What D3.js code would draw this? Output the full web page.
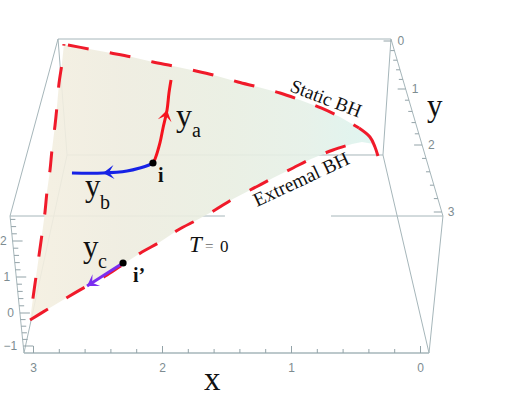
<!DOCTYPE html>
<html>
<head>
<meta charset="utf-8">
<script src="https://cdn.jsdelivr.net/npm/d3@7"></script>
<style>
    html, body { margin: 0; padding: 0; background: #fff; }
    svg { display: block; }
    text { font-family: "Liberation Serif", serif; fill: #111; }
    .tick-label { font-family: "Liberation Sans", sans-serif; font-size: 12px; fill: #7d8c91; }
</style>
</head>
<body>
<div class="chart"></div>
<script>
// curves are [x, v]: x, v off the left axis, as they fall on the page
const staticEdge = [[2.729, 7.549], [2.566, 7.437], [2.395, 7.324], [2.233, 7.211], [2.070, 7.070], [1.915, 6.958], [1.736, 6.817], [1.574, 6.676], [1.411, 6.507], [1.256, 6.366], [1.085, 6.197], [0.930, 6.000], [0.767, 5.775], [0.620, 5.521], [0.473, 5.211]];
const tipArc = [[0.473, 5.211], [0.388, 4.958], [0.349, 4.676], [0.326, 4.423]];
const tipFill = [[0.349, 4.676], [0.357, 4.761], [0.450, 4.817]];
const extremalEdge = [[3.023, -0.197], [2.884, 0.113], [2.729, 0.451], [2.581, 0.761], [2.426, 1.070], [2.287, 1.408], [2.155, 1.718], [2.016, 2.000], [1.876, 2.338], [1.729, 2.620], [1.589, 2.901], [1.450, 3.211], [1.256, 3.577], [1.140, 3.803], [0.984, 4.085], [0.845, 4.338], [0.674, 4.592], [0.527, 4.761]];
const leftEdge = [[3.023, -0.197], [3.000, 0.423], [2.977, 1.014], [2.953, 1.634], [2.930, 2.225], [2.907, 2.845], [2.891, 3.437], [2.868, 4.028], [2.853, 4.592], [2.829, 5.296], [2.814, 5.831], [2.798, 6.479], [2.775, 7.042], [2.760, 7.577]];
const curveA = [[2.070, 4.225], [2.054, 4.338], [2.016, 4.789], [1.992, 5.211], [1.961, 5.718], [1.946, 6.197], [1.930, 6.563]];
const curveB = [[2.070, 4.225], [2.101, 4.169], [2.171, 4.085], [2.271, 4.000], [2.457, 3.944], [2.698, 3.944]];
const curveC = [[2.302, 1.408], [2.581, 0.761]];
const startPoints = [[2.070, 4.225], [2.302, 1.408]];

// box corners in the same units
const backTop = [[2.806, 7.718], [0.225, 7.718]];
const frontTopLeft = [[3.178, 2.732], [1.512, 2.732]];
const frontTopRight = [[0.690, 2.732], [-0.178, 2.732]];
const backBottom = [[2.736, 4.451], [0.287, 4.451]];
const frontBottom = [[3.070, -1.127], [-0.070, -1.127]];
const sideEdges = [
    [[2.806, 7.718], [3.178, 2.732]],
    [[0.225, 7.718], [-0.178, 2.732]],
    [[2.736, 4.451], [3.070, -1.127]],
    [[0.287, 4.451], [-0.070, -1.127]],
    [[3.178, 2.732], [3.070, -1.127]],
    [[-0.178, 2.732], [-0.070, -1.127]],
    [[0.225, 7.718], [0.287, 4.451]],
    [[2.806, 7.718], [2.736, 4.451]]
];

const xTicks = d3.range(0, 16).map((d) => d / 5);
const zTicks = d3.range(-5, 14).map((d) => d / 5);
const yTicks = d3.range(0, 16).map((d) => d / 5);
const zTickValues = [-1, 0, 1, 2];
const zTickPixels = [346, 313, 277, 241];
const yTickValues = [0, 1, 2, 3];
const yTickPixels = [41, 89, 145, 212];

const width = 518;
const height = 400;

const sx = d3.scaleLinear().domain([0, 3]).range([420, 33]);
const sv = d3.scaleLinear().domain([0, 2]).range([313, 242]);
const zTickY = d3.scaleLinear().domain(zTickValues).range(zTickPixels);
const yTickY = d3.scaleLinear().domain(yTickValues).range(yTickPixels);
// the left and right axes lean, so tick x follows the box edge
const leftEdgeX = d3.scaleLinear().domain([sv(2.732), sv(-1.127)]).range([sx(3.178), sx(3.070)]);
const rightEdgeX = d3.scaleLinear().domain([sv(7.718), sv(2.732)]).range([sx(0.225), sx(-0.178)]);

const line = d3.line().x((d) => sx(d[0])).y((d) => sv(d[1]));
const smooth = d3.line().x((d) => sx(d[0])).y((d) => sv(d[1])).curve(d3.curveCatmullRom);

const svg = d3.select(".chart").append("svg")
    .attr("width", width)
    .attr("height", height);

const gradient = svg.append("defs").append("linearGradient")
    .attr("id", "surface")
    .attr("gradientUnits", "userSpaceOnUse")
    .attr("x1", sx(3)).attr("x2", sx(0.35))
    .attr("y1", 0).attr("y2", 0);
gradient.selectAll("stop")
    .data([[0, "#f4efe0"], [0.25, "#eeecdf"], [0.55, "#e9eee1"], [0.8, "#e5f0e7"], [1, "#dcf4ef"]])
    .enter().append("stop")
    .attr("offset", (d) => d[0])
    .attr("stop-color", (d) => d[1]);

_drawBox();
_drawAxes();
_drawSurface();
_drawCurves();
_drawLabels();

function _drawBox() {
    const box = svg.append("g")
        .attr("fill", "none")
        .attr("stroke", "#a6b6ba")
        .attr("stroke-width", 1);

    [backTop, backBottom, frontTopLeft, frontTopRight].concat(sideEdges).forEach((edge) => {
        box.append("path").attr("d", line(edge));
    });
    box.append("path").attr("d", line(frontBottom)).attr("stroke-width", 1.3);
}

function _drawAxes() {
    const axis = d3.axisBottom(sx)
        .tickValues(xTicks)
        .tickSize(-4)
        .tickPadding(10)
        .tickFormat((d) => Number.isInteger(d) ? d : "");

    const g = svg.append("g")
        .attr("transform", `translate(0,${sv(-1.127)})`)
        .call(axis);
    g.select(".domain").remove();
    g.selectAll("line")
        .attr("stroke", "#93a3a8")
        .attr("y2", (d) => Number.isInteger(d) ? -7 : -4);
    g.selectAll("text").attr("class", "tick-label");
    g.attr("font-family", null).attr("font-size", null);

    const left = svg.append("g");
    left.selectAll("line").data(zTicks).enter().append("line")
        .attr("stroke", "#93a3a8")
        .attr("x1", (d) => leftEdgeX(zTickY(d)))
        .attr("x2", (d) => leftEdgeX(zTickY(d)) + (Number.isInteger(d) ? 10 : 5))
        .attr("y1", zTickY)
        .attr("y2", zTickY);
    left.selectAll("text").data(zTickValues).enter().append("text")
        .attr("class", "tick-label")
        .attr("x", (d) => leftEdgeX(zTickY(d)) - 6)
        .attr("y", zTickY)
        .attr("dy", ".35em")
        .attr("text-anchor", "end")
        .text((d) => d < 0 ? "\u2212" + Math.abs(d) : d);

    const right = svg.append("g");
    right.selectAll("line").data(yTicks).enter().append("line")
        .attr("stroke", "#93a3a8")
        .attr("x1", (d) => rightEdgeX(yTickY(d)))
        .attr("x2", (d) => rightEdgeX(yTickY(d)) - (Number.isInteger(d) ? 8 : 4))
        .attr("y1", yTickY)
        .attr("y2", yTickY);
    right.selectAll("text").data(yTickValues).enter().append("text")
        .attr("class", "tick-label")
        .attr("x", (d) => rightEdgeX(yTickY(d)) + 6)
        .attr("y", yTickY)
        .attr("dy", ".35em")
        .text((d) => d);
}

function _drawSurface() {
    const outline = extremalEdge.concat(tipFill.slice().reverse(), tipArc.slice(0, 3).reverse(), staticEdge.slice().reverse(), leftEdge.slice().reverse());

    svg.append("path")
        .attr("d", line(outline) + "Z")
        .attr("fill", "url(#surface)")
        .attr("fill-opacity", 0.9);

    const edges = svg.append("g")
        .attr("fill", "none")
        .attr("stroke", "#f01a2a")
        .attr("stroke-width", 3);

    edges.append("path").attr("d", smooth(staticEdge)).attr("stroke-dasharray", "21 21.5");
    edges.append("path").attr("d", smooth(extremalEdge)).attr("stroke-dasharray", "21 21.5");
    edges.append("path").attr("d", smooth(leftEdge)).attr("stroke-dasharray", "21 21.5").attr("stroke-dashoffset", 21);
    edges.append("path").attr("d", smooth(tipArc));
}

function _drawCurves() {
    _drawCurve(curveA, "#f5141e", 4);
    _drawCurve(curveB, "#1622e6", 4);
    _drawCurve(curveC, "#7a2df0", 1);

    svg.selectAll(".start")
        .data(startPoints)
        .enter().append("circle")
        .attr("class", "start")
        .attr("cx", (d) => sx(d[0]))
        .attr("cy", (d) => sv(d[1]))
        .attr("r", 3.6)
        .attr("fill", "#000");

    // arrow head sits on point i of the curve and points along it
    function _drawCurve(points, color, i) {
        svg.append("path")
            .attr("d", smooth(points))
            .attr("fill", "none")
            .attr("stroke", color)
            .attr("stroke-width", 3);

        const a = points[i - 1];
        const b = points[i];
        const angle = Math.atan2(sv(b[1]) - sv(a[1]), sx(b[0]) - sx(a[0])) * 180 / Math.PI;

        svg.append("path")
            .attr("d", "M0,0L-11,-7L-6,0L-11,7Z")
            .attr("fill", color)
            .attr("transform", `translate(${sx(b[0])},${sv(b[1])}) rotate(${angle})`);
    }
}

function _drawLabels() {
    const plain = [
        ["x", 204, 390, 33],
        ["y", 427, 116, 31],
        ["y", 176, 126, 32],
        ["a", 192, 137, 20],
        ["y", 85, 196, 31],
        ["b", 100, 209, 20],
        ["y", 83, 257, 31],
        ["c", 98, 268, 20],
        ["0", 220, 252, 17]
    ];
    svg.selectAll(".label")
        .data(plain)
        .enter().append("text")
        .attr("class", "label")
        .attr("x", (d) => d[1])
        .attr("y", (d) => d[2])
        .attr("font-size", (d) => d[3])
        .text((d) => d[0]);

    svg.append("text").attr("x", 158).attr("y", 182).attr("font-size", 20).attr("font-weight", "bold").text("i");
    svg.append("text").attr("x", 133).attr("y", 282).attr("font-size", 20).attr("font-weight", "bold").text("i\u2019");
    svg.append("text").attr("x", 189).attr("y", 252).attr("font-size", 23).attr("font-style", "italic").text("T");
    svg.append("text").attr("x", 205).attr("y", 251).attr("font-size", 15).style("fill", "#666").text("=");

    svg.append("text")
        .attr("transform", "translate(289,91) rotate(21)")
        .attr("font-size", 19)
        .text("Static BH");
    svg.append("text")
        .attr("transform", "translate(257,207) rotate(-25)")
        .attr("font-size", 19.5)
        .text("Extremal BH");
}
</script>
</body>
</html>
